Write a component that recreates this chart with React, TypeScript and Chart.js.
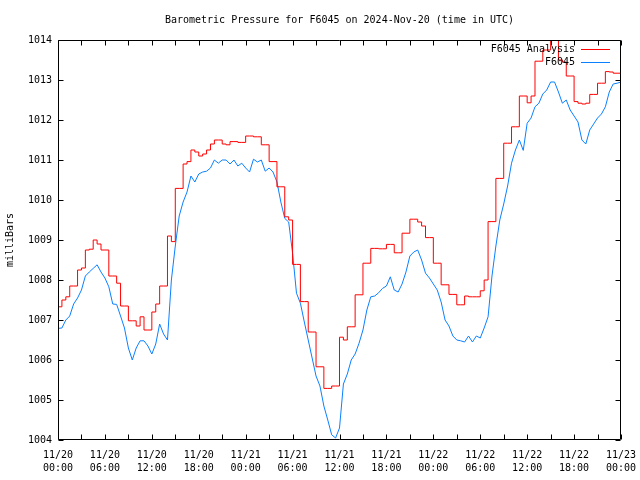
import { useEffect, useRef } from "react";
import { Chart, registerables } from "chart.js";

Chart.register(...registerables);

const TITLE = "Barometric Pressure for F6045 on 2024-Nov-20 (time in UTC)";
const Y_LABEL = "milliBars";
const SERIES_NAMES = ["F6045 Analysis", "F6045"];
const X_TICK_LABELS = [
  ["11/20", "00:00"], ["11/20", "06:00"], ["11/20", "12:00"], ["11/20", "18:00"],
  ["11/21", "00:00"], ["11/21", "06:00"], ["11/21", "12:00"], ["11/21", "18:00"],
  ["11/22", "00:00"], ["11/22", "06:00"], ["11/22", "12:00"], ["11/22", "18:00"],
  ["11/23", "00:00"],
];
const Y_TICKS = [1004, 1005, 1006, 1007, 1008, 1009, 1010, 1011, 1012, 1013, 1014];

// hours since 11/20 00:00 UTC, every half hour
const HOURS = [
  0, 0.5, 1, 1.5, 2, 2.5, 3, 3.5, 4, 4.5, 5, 5.5, 6, 6.5, 7, 7.5, 8, 8.5, 9, 9.5,
  10, 10.5, 11, 11.5, 12, 12.5, 13, 13.5, 14, 14.5, 15, 15.5, 16, 16.5, 17, 17.5, 18, 18.5, 19, 19.5,
  20, 20.5, 21, 21.5, 22, 22.5, 23, 23.5, 24, 24.5, 25, 25.5, 26, 26.5, 27, 27.5, 28, 28.5, 29, 29.5,
  30, 30.5, 31, 31.5, 32, 32.5, 33, 33.5, 34, 34.5, 35, 35.5, 36, 36.5, 37, 37.5, 38, 38.5, 39, 39.5,
  40, 40.5, 41, 41.5, 42, 42.5, 43, 43.5, 44, 44.5, 45, 45.5, 46, 46.5, 47, 47.5, 48, 48.5, 49, 49.5,
  50, 50.5, 51, 51.5, 52, 52.5, 53, 53.5, 54, 54.5, 55, 55.5, 56, 56.5, 57, 57.5, 58, 58.5, 59, 59.5,
  60, 60.5, 61, 61.5, 62, 62.5, 63, 63.5, 64, 64.5, 65, 65.5, 66, 66.5, 67, 67.5, 68, 68.5, 69, 69.5,
  70, 70.5, 71, 71.5, 72,
];

const ANALYSIS = [
  1007.2, 1007.33, 1007.5, 1007.58, 1007.85, 1007.85, 1008.25, 1008.3, 1008.75, 1008.77,
  1009.0, 1008.9, 1008.75, 1008.75, 1008.1, 1008.1, 1007.92, 1007.35, 1007.35, 1006.98,
  1006.98, 1006.85, 1007.08, 1006.75, 1006.75, 1007.2, 1007.4, 1007.85, 1007.85, 1009.1,
  1008.96, 1010.29, 1010.29, 1010.9, 1010.96, 1011.25, 1011.2, 1011.1, 1011.15, 1011.25,
  1011.4, 1011.5, 1011.5, 1011.4, 1011.38, 1011.46, 1011.46, 1011.44, 1011.44, 1011.6,
  1011.6, 1011.58, 1011.58, 1011.38, 1011.38, 1010.96, 1010.96, 1010.33, 1010.33, 1009.58,
  1009.5, 1008.39, 1008.39, 1007.46, 1007.46, 1006.7, 1006.7, 1005.83, 1005.83, 1005.29,
  1005.29, 1005.35, 1005.35, 1006.57, 1006.5, 1006.83, 1006.83, 1007.63, 1007.63, 1008.42,
  1008.42, 1008.79, 1008.79, 1008.78, 1008.78, 1008.89, 1008.89, 1008.68, 1008.68, 1009.17,
  1009.17, 1009.52, 1009.52, 1009.45, 1009.35, 1009.06, 1009.06, 1008.42, 1008.42, 1007.88,
  1007.88, 1007.64, 1007.64, 1007.38, 1007.38, 1007.6, 1007.58, 1007.58, 1007.58, 1007.73,
  1008.0, 1009.46, 1009.46, 1010.54, 1010.54, 1011.42, 1011.42, 1011.83, 1011.83, 1012.6,
  1012.6, 1012.43, 1012.6, 1013.47, 1013.47, 1013.75, 1013.75, 1014.0, 1014.0, 1013.5,
  1013.45, 1013.1, 1013.1, 1012.46, 1012.42, 1012.4, 1012.42, 1012.64, 1012.64, 1012.92,
  1012.92, 1013.21, 1013.2, 1013.17, 1013.17,
];

const OBSERVED = [
  1006.79, 1006.8, 1007.0, 1007.1, 1007.4, 1007.55, 1007.75, 1008.1, 1008.2, 1008.29,
  1008.38, 1008.2, 1008.05, 1007.83, 1007.4, 1007.39, 1007.1, 1006.8, 1006.3, 1006.0,
  1006.3, 1006.48, 1006.48, 1006.35, 1006.15, 1006.4, 1006.9, 1006.65, 1006.5, 1008.0,
  1008.85, 1009.6, 1009.95, 1010.2, 1010.6, 1010.45, 1010.65, 1010.7, 1010.72, 1010.8,
  1011.0, 1010.92, 1011.0, 1011.0, 1010.9, 1011.0, 1010.85, 1010.92, 1010.8, 1010.7,
  1011.02, 1010.95, 1011.0, 1010.72, 1010.8, 1010.7, 1010.45, 1009.95, 1009.54, 1009.45,
  1008.67, 1007.67, 1007.42, 1006.95, 1006.5, 1006.05, 1005.6, 1005.35, 1004.85, 1004.5,
  1004.13, 1004.05, 1004.3, 1005.4, 1005.65, 1006.0, 1006.15, 1006.42, 1006.75, 1007.25,
  1007.58, 1007.6, 1007.68, 1007.79, 1007.85, 1008.08, 1007.75, 1007.7, 1007.9, 1008.2,
  1008.6, 1008.7, 1008.75, 1008.5, 1008.17, 1008.05, 1007.9, 1007.75, 1007.45, 1007.0,
  1006.85, 1006.6, 1006.5, 1006.48, 1006.45, 1006.6, 1006.45, 1006.6, 1006.55, 1006.8,
  1007.08, 1008.1, 1008.85, 1009.5, 1009.9, 1010.35, 1010.92, 1011.25, 1011.5, 1011.24,
  1011.92, 1012.05, 1012.33, 1012.42, 1012.65, 1012.75, 1012.95, 1012.95, 1012.7, 1012.42,
  1012.5, 1012.25, 1012.1, 1011.95, 1011.5, 1011.4, 1011.75, 1011.9, 1012.05, 1012.15,
  1012.33, 1012.7, 1012.9, 1012.92, 1012.95,
];

const RED = "#ff0000";
const BLUE = "#0a80ff";
const FONT = "DejaVu Sans Mono";

const framePlugin = {
  id: "gnuframe",
  afterDatasetsDraw(chart: any) {
    const { ctx, chartArea } = chart;
    const { left, right, top, bottom } = chartArea;
    const xs = chart.scales.x;
    const ys = chart.scales.y;
    ctx.save();
    ctx.strokeStyle = "#000";
    ctx.lineWidth = 1;
    const L = Math.round(left) + 0.5;
    const R = Math.round(right) - 0.5;
    const T = Math.round(top) + 0.5;
    const B = Math.round(bottom) - 0.5;
    ctx.beginPath();
    ctx.rect(L, T, R - L, B - T);
    // x ticks every 3 hours (inward, mirrored)
    for (let h = 0; h <= 72; h += 3) {
      const px = Math.round(xs.getPixelForValue(h)) + 0.5;
      ctx.moveTo(px, B);
      ctx.lineTo(px, B - 5);
      ctx.moveTo(px, T);
      ctx.lineTo(px, T + 5);
    }
    for (const v of Y_TICKS) {
      const py = Math.round(ys.getPixelForValue(v)) + 0.5;
      ctx.moveTo(L, py);
      ctx.lineTo(L + 5, py);
      ctx.moveTo(R, py);
      ctx.lineTo(R - 5, py);
    }
    ctx.stroke();

    // title
    ctx.fillStyle = "#000";
    ctx.font = `10px "${FONT}"`;
    ctx.textAlign = "center";
    ctx.textBaseline = "middle";
    ctx.fillText(TITLE, (left + right) / 2, 20);

    // legend
    const colors = [RED, BLUE];
    const ly = [49, 62];
    ctx.textAlign = "right";
    for (let i = 0; i < SERIES_NAMES.length; i++) {
      ctx.fillStyle = "#000";
      ctx.fillText(SERIES_NAMES[i], 575, ly[i]);
      ctx.strokeStyle = colors[i];
      ctx.beginPath();
      ctx.moveTo(581, ly[i] + 0.5);
      ctx.lineTo(610, ly[i] + 0.5);
      ctx.stroke();
    }
    ctx.restore();
  },
};

export default function App() {
  const ref = useRef<HTMLCanvasElement | null>(null);
  useEffect(() => {
    if (!ref.current) return;
    const chart = new Chart(ref.current, {
      type: "line",
      data: {
        datasets: [
          {
            label: SERIES_NAMES[0],
            data: HOURS.map((h, i) => ({ x: h, y: ANALYSIS[i] })),
            borderColor: RED,
            borderWidth: 1,
            pointRadius: 0,
            stepped: "after",
            fill: false,
          },
          {
            label: SERIES_NAMES[1],
            data: HOURS.map((h, i) => ({ x: h, y: OBSERVED[i] })),
            borderColor: BLUE,
            borderWidth: 1,
            pointRadius: 0,
            tension: 0,
            fill: false,
          },
        ],
      },
      options: {
        animation: false,
        responsive: false,
        maintainAspectRatio: false,
        layout: { padding: { left: 0, right: 19, top: 40, bottom: 0 } },
        plugins: {
          legend: { display: false },
          title: { display: false },
          tooltip: { enabled: false },
        },
        scales: {
          x: {
            type: "linear",
            min: 0,
            max: 72,
            grid: { display: false, drawTicks: false },
            border: { display: false },
            afterFit: (s: any) => {
              s.height = 40;
              s.paddingLeft = 0;
              s.paddingRight = 0;
            },
            ticks: {
              stepSize: 6,
              autoSkip: false,
              maxRotation: 0,
              padding: 9,
              color: "#000",
              font: { family: FONT, size: 10, lineHeight: 1.3 },
              callback: (v: any) => {
                const idx = Math.round(Number(v) / 6);
                return X_TICK_LABELS[idx] ?? "";
              },
            },
          },
          y: {
            min: 1004,
            max: 1014,
            grid: { display: false, drawTicks: false },
            border: { display: false },
            afterFit: (s: any) => {
              s.width = 58;
              s.paddingTop = 0;
              s.paddingBottom = 0;
            },
            ticks: {
              stepSize: 1,
              padding: 6,
              color: "#000",
              font: { family: FONT, size: 10 },
              callback: (v: any) => String(v),
            },
            title: {
              display: true,
              text: Y_LABEL,
              color: "#000",
              font: { family: FONT, size: 10 },
              padding: { top: 4, bottom: 0 },
            },
          },
        },
      },
      plugins: [framePlugin],
    });
    return () => chart.destroy();
  }, []);
  return (
    <div style={{ position: "absolute", left: 0, top: 0, width: 640, height: 480, background: "#fff" }}>
      <canvas ref={ref} width={640} height={480} />
    </div>
  );
}
